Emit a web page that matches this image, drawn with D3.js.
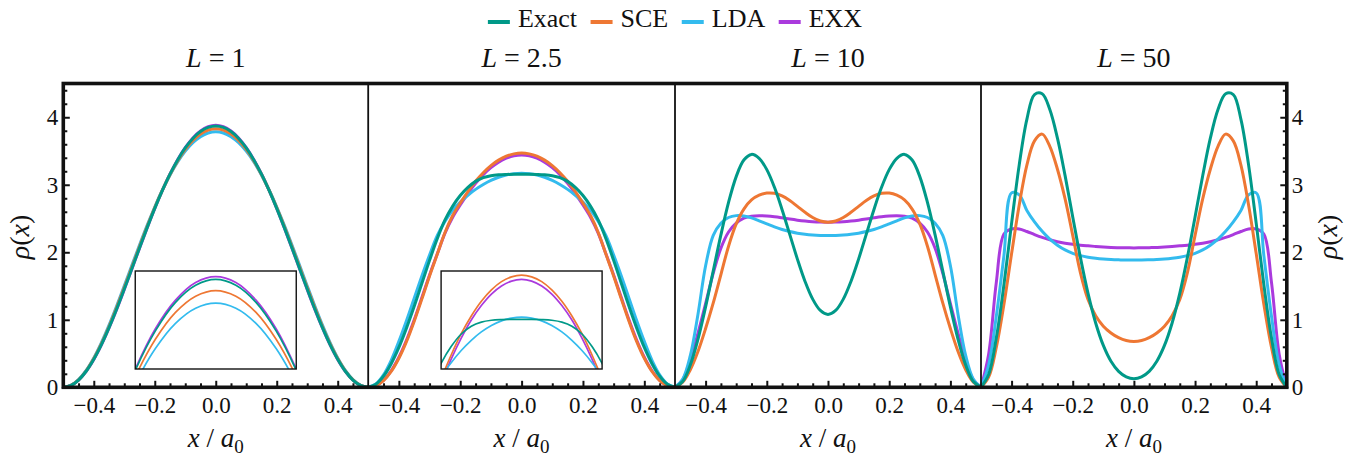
<!DOCTYPE html>
<html>
<head>
<meta charset="utf-8">
<script src="https://cdn.jsdelivr.net/npm/d3@7"></script>
<style>
  html, body { margin: 0; padding: 0; background: #fff; }
  svg { display: block; font-family: "Liberation Serif", "DejaVu Serif", serif; }
  text { white-space: pre; }
</style>
</head>
<body>
<svg id="chart" width="1352" height="457"></svg>
<script>
// Position grid x / a0 shared by every density profile
const xPos = [-0.5, -0.475, -0.45, -0.425, -0.4, -0.375, -0.35, -0.325, -0.3, -0.275, -0.25,
  -0.225, -0.2, -0.175, -0.15, -0.125, -0.1, -0.075, -0.05, -0.025, 0, 0.025, 0.05, 0.075,
  0.1, 0.125, 0.15, 0.175, 0.2, 0.225, 0.25, 0.275, 0.3, 0.325, 0.35, 0.375, 0.4, 0.425,
  0.45, 0.475, 0.5];

// L = 1
const exactL1 = [0, 0.027, 0.107, 0.238, 0.415, 0.632, 0.883, 1.160, 1.455, 1.759, 2.065, 2.365, 2.651, 2.916, 3.157, 3.368, 3.545, 3.686, 3.788, 3.849, 3.870, 3.849, 3.788, 3.686, 3.545, 3.368, 3.157, 2.916, 2.651, 2.365, 2.065, 1.759, 1.455, 1.160, 0.883, 0.632, 0.415, 0.238, 0.107, 0.027, 0];
const sceL1 = [0, 0.028, 0.110, 0.244, 0.425, 0.646, 0.900, 1.181, 1.477, 1.781, 2.085, 2.381, 2.661, 2.919, 3.152, 3.354, 3.523, 3.656, 3.752, 3.810, 3.830, 3.810, 3.752, 3.656, 3.523, 3.354, 3.152, 2.919, 2.661, 2.381, 2.085, 1.781, 1.477, 1.181, 0.900, 0.646, 0.425, 0.244, 0.110, 0.028, 0];
const ldaL1 = [0, 0.028, 0.114, 0.250, 0.435, 0.662, 0.921, 1.204, 1.502, 1.806, 2.108, 2.399, 2.671, 2.923, 3.146, 3.339, 3.498, 3.623, 3.713, 3.767, 3.785, 3.767, 3.713, 3.623, 3.498, 3.339, 3.146, 2.923, 2.671, 2.399, 2.108, 1.806, 1.502, 1.204, 0.921, 0.662, 0.435, 0.250, 0.114, 0.028, 0];
const exxL1 = [0, 0.027, 0.106, 0.236, 0.412, 0.628, 0.879, 1.154, 1.449, 1.754, 2.060, 2.360, 2.649, 2.916, 3.159, 3.372, 3.550, 3.694, 3.796, 3.859, 3.880, 3.859, 3.796, 3.694, 3.550, 3.372, 3.159, 2.916, 2.649, 2.360, 2.060, 1.754, 1.449, 1.154, 0.879, 0.628, 0.412, 0.236, 0.106, 0.027, 0];

// L = 2.5
const exactL25 = [0, 0.045, 0.165, 0.350, 0.590, 0.880, 1.200, 1.540, 1.880, 2.200, 2.475, 2.680, 2.840, 2.960, 3.050, 3.106, 3.135, 3.148, 3.153, 3.155, 3.155, 3.155, 3.153, 3.148, 3.135, 3.106, 3.050, 2.960, 2.840, 2.680, 2.475, 2.200, 1.880, 1.540, 1.200, 0.880, 0.590, 0.350, 0.165, 0.045, 0];
const sceL25 = [0, 0.025, 0.100, 0.235, 0.430, 0.680, 0.980, 1.310, 1.650, 1.970, 2.290, 2.540, 2.728, 2.900, 3.052, 3.179, 3.284, 3.365, 3.424, 3.458, 3.470, 3.458, 3.424, 3.365, 3.284, 3.179, 3.052, 2.900, 2.728, 2.540, 2.290, 1.970, 1.650, 1.310, 0.980, 0.680, 0.430, 0.235, 0.100, 0.025, 0];
const ldaL25 = [0, 0.050, 0.185, 0.400, 0.680, 0.990, 1.320, 1.650, 1.960, 2.245, 2.455, 2.620, 2.745, 2.845, 2.932, 3.005, 3.065, 3.111, 3.144, 3.163, 3.170, 3.163, 3.144, 3.111, 3.065, 3.005, 2.932, 2.845, 2.745, 2.620, 2.455, 2.245, 1.960, 1.650, 1.320, 0.990, 0.680, 0.400, 0.185, 0.050, 0];
const exxL25 = [0, 0.027, 0.105, 0.245, 0.445, 0.700, 1.000, 1.330, 1.665, 1.975, 2.280, 2.515, 2.700, 2.870, 3.020, 3.150, 3.253, 3.335, 3.393, 3.428, 3.440, 3.428, 3.393, 3.335, 3.253, 3.150, 3.020, 2.870, 2.700, 2.515, 2.280, 1.975, 1.665, 1.330, 1.000, 0.700, 0.445, 0.245, 0.105, 0.027, 0];

// L = 10
const exactL10 = [0, 0.085, 0.329, 0.711, 1.192, 1.725, 2.258, 2.739, 3.121, 3.366, 3.450, 3.392, 3.224, 2.962, 2.631, 2.265, 1.899, 1.568, 1.306, 1.138, 1.080, 1.138, 1.306, 1.568, 1.899, 2.265, 2.631, 2.962, 3.224, 3.392, 3.450, 3.366, 3.121, 2.739, 2.258, 1.725, 1.192, 0.711, 0.329, 0.085, 0];
const sceL10 = [0, 0.075, 0.260, 0.530, 0.870, 1.250, 1.670, 2.090, 2.420, 2.640, 2.775, 2.845, 2.877, 2.873, 2.834, 2.766, 2.680, 2.592, 2.515, 2.463, 2.445, 2.463, 2.515, 2.592, 2.680, 2.766, 2.834, 2.873, 2.877, 2.845, 2.775, 2.640, 2.420, 2.090, 1.670, 1.250, 0.870, 0.530, 0.260, 0.075, 0];
const ldaL10 = [0, 0.120, 0.470, 1.080, 1.800, 2.250, 2.430, 2.515, 2.543, 2.538, 2.510, 2.466, 2.421, 2.377, 2.338, 2.307, 2.283, 2.266, 2.255, 2.249, 2.247, 2.249, 2.255, 2.266, 2.283, 2.307, 2.338, 2.377, 2.421, 2.466, 2.510, 2.538, 2.543, 2.515, 2.430, 2.250, 1.800, 1.080, 0.470, 0.120, 0];
const exxL10 = [0, 0.110, 0.400, 0.800, 1.240, 1.690, 2.060, 2.300, 2.430, 2.505, 2.535, 2.542, 2.537, 2.526, 2.510, 2.492, 2.476, 2.463, 2.453, 2.447, 2.445, 2.447, 2.453, 2.463, 2.476, 2.492, 2.510, 2.526, 2.537, 2.542, 2.535, 2.505, 2.430, 2.300, 2.060, 1.690, 1.240, 0.800, 0.400, 0.110, 0];

// L = 50
const exactL50 = [0, 0.190, 0.729, 1.519, 2.428, 3.295, 3.970, 4.336, 4.348, 4.115, 3.690, 3.135, 2.524, 1.925, 1.391, 0.953, 0.620, 0.386, 0.236, 0.154, 0.127, 0.154, 0.236, 0.386, 0.620, 0.953, 1.391, 1.925, 2.524, 3.135, 3.690, 4.115, 4.348, 4.336, 3.970, 3.295, 2.428, 1.519, 0.729, 0.190, 0];
const sceL50 = [0, 0.150, 0.590, 1.230, 1.980, 2.700, 3.290, 3.650, 3.750, 3.570, 3.230, 2.790, 2.250, 1.700, 1.300, 1.060, 0.905, 0.805, 0.735, 0.693, 0.680, 0.693, 0.735, 0.805, 0.905, 1.060, 1.300, 1.700, 2.250, 2.790, 3.230, 3.570, 3.750, 3.650, 3.290, 2.700, 1.980, 1.230, 0.590, 0.150, 0];
const ldaL50 = [0, 0.330, 1.050, 1.950, 2.880, 2.850, 2.620, 2.450, 2.310, 2.195, 2.105, 2.035, 1.985, 1.950, 1.926, 1.910, 1.899, 1.892, 1.888, 1.886, 1.885, 1.886, 1.888, 1.892, 1.899, 1.910, 1.926, 1.950, 1.985, 2.035, 2.105, 2.195, 2.310, 2.450, 2.620, 2.850, 2.880, 1.950, 1.050, 0.330, 0];
const exxL50 = [0, 0.490, 1.550, 2.270, 2.345, 2.345, 2.308, 2.262, 2.220, 2.185, 2.157, 2.135, 2.118, 2.105, 2.095, 2.086, 2.078, 2.072, 2.068, 2.066, 2.065, 2.066, 2.068, 2.072, 2.078, 2.086, 2.095, 2.105, 2.118, 2.135, 2.157, 2.185, 2.220, 2.262, 2.308, 2.345, 2.345, 2.270, 1.550, 0.490, 0];

const lengths = ["1", "2.5", "10", "50"];
const methods = ["Exact", "SCE", "LDA", "EXX"];
const xMajor = [-0.4, -0.2, 0, 0.2, 0.4];
const xMajorLabels = ["\u22120.4", "\u22120.2", "0.0", "0.2", "0.4"];
const xMinor = [-0.45, -0.35, -0.3, -0.25, -0.15, -0.1, -0.05, 0.05, 0.1, 0.15, 0.25, 0.3, 0.35, 0.45];
const yMajor = [0, 1, 2, 3, 4];
const yMajorLabels = ["0", "1", "2", "3", "4"];

// ---- styling / layout ----
const methodColors = ["#009988", "#EE7733", "#33BBEE", "#AA3ADD"];
const drawOrder = [3, 2, 1, 0];           // Exact drawn last (on top)
const panelDensities = [
  [exactL1, sceL1, ldaL1, exxL1],
  [exactL25, sceL25, ldaL25, exxL25],
  [exactL10, sceL10, ldaL10, exxL10],
  [exactL50, sceL50, ldaL50, exxL50]
];
// zoom windows of the two insets (x range, density range)
const insetWindows = [
  { xd: [-0.1, 0.1], yd: [3.55, 3.90] },
  { xd: [-0.2, 0.2], yd: [2.80, 3.50] }
];

const INK = "#111";
const edges = [63.3, 368.2, 675, 981, 1286.8];
const yTop = 83.5, yBot = 387.3;
const svg = d3.select("#chart");
const y = d3.scaleLinear().domain([0, 4.5]).range([yBot, yTop]);
const curve = d3.curveCatmullRom.alpha(0.5);

const yMinor = d3.range(0.2, 4.5, 0.2).filter(v => Math.abs(v - Math.round(v)) > 1e-6);

lengths.forEach((Lval, p) => {
  const x = d3.scaleLinear().domain([-0.5, 0.5]).range([edges[p], edges[p + 1]]);
  const line = d3.line().x((d, i) => x(xPos[i])).y(d => y(d)).curve(curve);
  const g = svg.append("g");

  drawOrder.forEach(s => {
    g.append("path")
      .attr("d", line(panelDensities[p][s]))
      .attr("fill", "none")
      .attr("stroke", methodColors[s])
      .attr("stroke-width", 3)
      .attr("stroke-linejoin", "round")
      .attr("stroke-linecap", "round");
  });

  // inset magnifying the top of the profiles
  if (p < insetWindows.length) {
    const win = insetWindows[p];
    const cx = (edges[p] + edges[p + 1]) / 2;
    const ix = d3.scaleLinear().domain(win.xd).range([cx - 80.5, cx + 80.5]);
    const iy = d3.scaleLinear().domain(win.yd).range([369, 271]);
    const iline = d3.line().x((d, i) => ix(xPos[i])).y(d => iy(d)).curve(curve);
    const clipId = "inset-clip-" + p;
    svg.append("clipPath").attr("id", clipId)
      .append("rect")
      .attr("x", cx - 80.5).attr("y", 271).attr("width", 161).attr("height", 98);
    const ig = svg.append("g");
    ig.append("rect")
      .attr("x", cx - 80.5).attr("y", 271).attr("width", 161).attr("height", 98)
      .attr("fill", "#fff");
    const cg = ig.append("g").attr("clip-path", `url(#${clipId})`);
    drawOrder.forEach(s => {
      cg.append("path")
        .attr("d", iline(panelDensities[p][s]))
        .attr("fill", "none")
        .attr("stroke", methodColors[s])
        .attr("stroke-width", 1.7);
    });
    ig.append("rect")
      .attr("x", cx - 80.5).attr("y", 271).attr("width", 161).attr("height", 98)
      .attr("fill", "none").attr("stroke", INK).attr("stroke-width", 1.4);
  }

  // bottom axis: inward ticks with labels below
  const bottom = svg.append("g").attr("transform", `translate(0,${yBot})`).attr("color", INK);
  bottom.append("g").call(
    d3.axisBottom(x).tickValues(xMinor).tickFormat("").tickSize(-4).tickSizeOuter(0)
  );
  bottom.append("g").call(
    d3.axisBottom(x).tickValues(xMajor).tickFormat((d, i) => xMajorLabels[i])
      .tickSize(-6.5).tickSizeOuter(0).tickPadding(9)
  );
  bottom.selectAll(".domain").remove();
  bottom.selectAll(".tick line").attr("stroke-width", 2);
  bottom.selectAll("g").attr("font-family", null).attr("font-size", 23);
  bottom.selectAll(".tick text").attr("fill", INK);

  // panel title
  const t = svg.append("text")
    .attr("x", (edges[p] + edges[p + 1]) / 2).attr("y", 67)
    .attr("text-anchor", "middle").attr("font-size", 28).attr("fill", INK);
  t.append("tspan").attr("font-style", "italic").text("L");
  t.append("tspan").text(" = " + Lval);

  // x-axis title
  const xt = svg.append("text")
    .attr("x", (edges[p] + edges[p + 1]) / 2).attr("y", 446.5)
    .attr("text-anchor", "middle").attr("font-size", 27).attr("fill", INK);
  xt.append("tspan").attr("font-style", "italic").text("x");
  xt.append("tspan").text(" / ");
  xt.append("tspan").attr("font-style", "italic").text("a");
  xt.append("tspan").attr("font-size", 19).attr("dy", 6).text("0");
});

// left and right density axes
[["left", edges[0]], ["right", edges[4]]].forEach(([side, xp]) => {
  const mk = side === "left" ? d3.axisLeft : d3.axisRight;
  const ax = svg.append("g").attr("transform", `translate(${xp},0)`).attr("color", INK);
  ax.append("g").call(mk(y).tickValues(yMinor).tickFormat("").tickSize(-4).tickSizeOuter(0));
  ax.append("g").call(
    mk(y).tickValues(yMajor).tickFormat((d, i) => yMajorLabels[i])
      .tickSize(-6.5).tickSizeOuter(0).tickPadding(5)
  );
  ax.selectAll(".domain").remove();
  ax.selectAll(".tick line").attr("stroke-width", 2);
  ax.selectAll("g").attr("font-family", null).attr("font-size", 23);
  ax.selectAll(".tick text").attr("fill", INK);

  const lab = svg.append("text")
    .attr("transform", `translate(${side === "left" ? 29 : 1337},237) rotate(-90)`)
    .attr("text-anchor", "middle").attr("font-size", 28).attr("fill", INK);
  lab.append("tspan").attr("font-style", "italic").text("\u03C1");
  lab.append("tspan").text("(");
  lab.append("tspan").attr("font-style", "italic").text("x");
  lab.append("tspan").text(")");
});

// frame and panel dividers
svg.append("rect")
  .attr("x", edges[0]).attr("y", yTop)
  .attr("width", edges[4] - edges[0]).attr("height", yBot - yTop)
  .attr("fill", "none").attr("stroke", INK).attr("stroke-width", 3.6);
[1, 2, 3].forEach(k => {
  svg.append("line")
    .attr("x1", edges[k]).attr("x2", edges[k])
    .attr("y1", yTop).attr("y2", yBot)
    .attr("stroke", INK).attr("stroke-width", 1.8);
});

// legend
const legend = svg.append("g");
const items = methods.map((m, i) => {
  const g = legend.append("g");
  g.append("line").attr("x1", 0).attr("x2", 22).attr("y1", 22).attr("y2", 22)
    .attr("stroke", methodColors[i]).attr("stroke-width", 4);
  const tx = g.append("text").attr("x", 30).attr("y", 26.7)
    .attr("font-size", 26).attr("fill", INK).text(m);
  return { g, w: 30 + tx.node().getComputedTextLength() };
});
const gap = 13.5;
const total = d3.sum(items, d => d.w) + gap * (items.length - 1);
let cursor = 675 - total / 2;
items.forEach(it => {
  it.g.attr("transform", `translate(${cursor},0)`);
  cursor += it.w + gap;
});
</script>
</body>
</html>
